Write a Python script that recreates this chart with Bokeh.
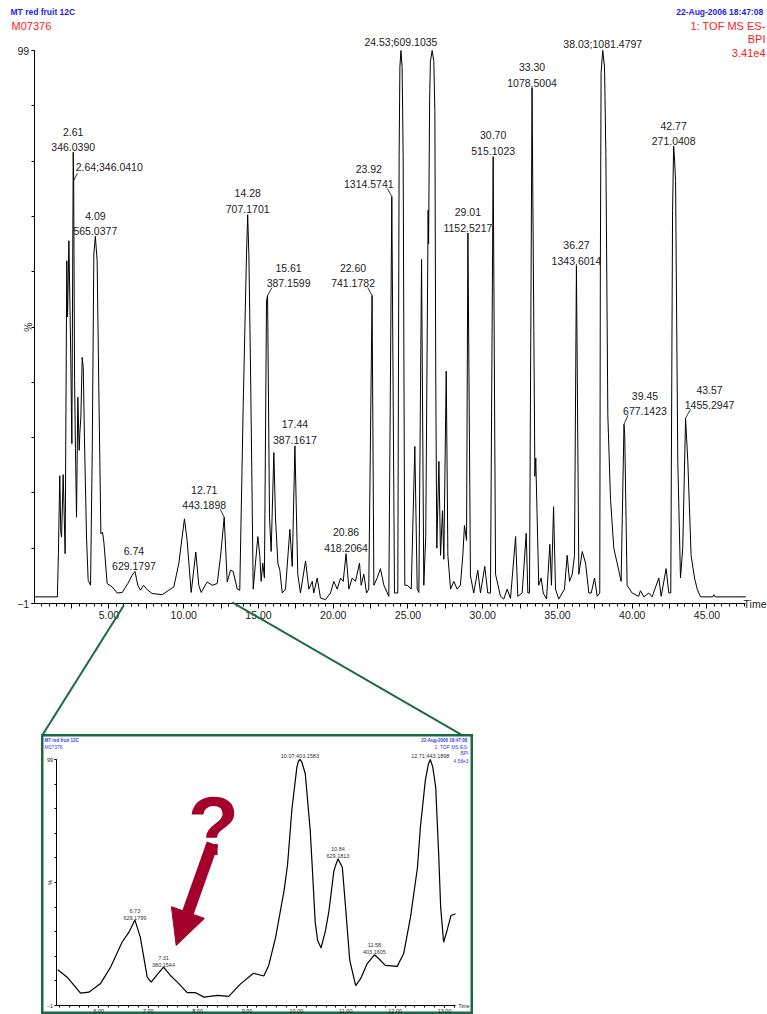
import math
from bokeh.plotting import figure
from bokeh.models import (Range1d, FixedTicker, Label, LabelSet, ColumnDataSource,
                          Arrow, NormalHead)
from bokeh.layouts import column
from bokeh.core.properties import value
from bokeh.embed import file_html
from bokeh.resources import INLINE

# ---------------- data: main chromatogram (time, min / relative intensity, %) -------------
MAIN_TIME = [0.0, 1.55, 1.62, 1.71, 1.78, 1.83, 1.94, 2.07, 2.18, 2.23, 2.32, 2.43, 2.52,
             2.61, 2.64, 2.70, 2.76, 2.83, 2.92, 3.01, 3.05, 3.12, 3.21, 3.28, 3.36, 3.50,
             3.61, 3.77, 3.88, 3.99, 4.09, 4.21, 4.32, 4.46, 4.57, 4.66, 4.88, 5.22, 5.55,
             5.89, 6.26, 6.55, 6.74, 6.93, 7.11, 7.31, 7.56, 7.89, 8.56, 9.00, 9.34, 9.67,
             10.05, 10.23, 10.50, 10.81, 11.01, 11.17, 11.57, 11.90, 12.24, 12.46, 12.71,
             12.91, 13.13, 13.31, 13.58, 13.75, 13.98, 14.20, 14.28, 14.36, 14.47, 14.65,
             14.80, 14.96, 15.09, 15.18, 15.29, 15.40, 15.54, 15.61, 15.74, 15.85, 16.03,
             16.14, 16.30, 16.43, 16.59, 16.81, 17.10, 17.26, 17.44, 17.63, 17.81, 18.15,
             18.37, 18.60, 18.70, 18.93, 19.15, 19.49, 19.82, 20.04, 20.27, 20.49, 20.67,
             20.86, 21.05, 21.27, 21.49, 21.76, 21.87, 22.05, 22.23, 22.38, 22.60, 22.72,
             22.94, 23.16, 23.39, 23.72, 23.92, 24.10, 24.32, 24.36, 24.41, 24.46, 24.53,
             24.61, 24.68, 24.74, 24.79, 24.95, 25.22, 25.46, 25.62, 25.73, 25.91, 26.06,
             26.19, 26.35, 26.38, 26.45, 26.50, 26.62, 26.73, 26.80, 26.86, 26.93, 27.07,
             27.18, 27.31, 27.40, 27.56, 27.67, 27.85, 28.07, 28.29, 28.51, 28.67, 28.78,
             28.92, 29.01, 29.18, 29.40, 29.67, 29.85, 30.14, 30.34, 30.52, 30.70, 30.86,
             31.19, 31.41, 31.64, 31.86, 32.20, 32.35, 32.64, 32.91, 33.02, 33.13, 33.30,
             33.42, 33.49, 33.55, 33.58, 33.75, 33.91, 34.05, 34.27, 34.49, 34.60, 34.74,
             34.87, 35.09, 35.32, 35.47, 35.65, 35.81, 35.99, 36.14, 36.27, 36.43, 36.66,
             36.88, 37.10, 37.26, 37.48, 37.66, 37.83, 37.87, 37.92, 38.03, 38.15, 38.24,
             38.37, 38.55, 38.77, 39.10, 39.26, 39.45, 39.50, 39.66, 39.99, 40.43, 40.55,
             40.78, 41.11, 41.33, 41.78, 41.94, 42.27, 42.45, 42.58, 42.70, 42.77, 42.82,
             42.90, 43.05, 43.23, 43.38, 43.57, 43.72, 43.94, 44.17, 44.35, 44.57, 45.40,
             45.46, 45.55, 47.60]
MAIN_INT = [0.2, 0.2, 8.0, 22.1, 12.0, 11.0, 22.3, 8.0, 61.0, 50.8, 64.6, 46.6, 27.9,
            80.6, 75.5, 39.3, 27.0, 14.6, 36.3, 26.7, 29.7, 32.7, 43.5, 41.7, 29.1, 11.0,
            3.2, 2.3, 26.1, 62.2, 65.4, 61.0, 38.1, 11.6, 11.9, 10.1, 2.6, 2.0, 0.9,
            1.0, 2.6, 4.1, 4.8, 2.3, 1.4, 2.3, 1.5, 0.8, 0.6, 1.4, 2.0, 6.2,
            14.3, 10.4, 1.0, 8.3, 2.3, 1.0, 2.9, 2.3, 2.6, 7.4, 14.6,
            2.9, 5.0, 4.8, 1.6, 1.4, 34.8, 62.0, 69.3, 62.0, 41.6, 1.6,
            6.3, 11.1, 7.7, 3.0, 6.3, 3.6, 53.8, 54.7, 14.5, 8.4, 26.3,
            14.5, 6.3, 5.0, 0.9, 1.6, 12.4, 5.7, 27.5, 4.3, 0.9, 6.7,
            1.6, 3.0, 0.9, 3.6, 0.0, -0.3, 0.9, 3.0, 1.6, 3.6, 3.0,
            8.0, 1.6, 3.6, 3.0, 6.3, 2.3, 4.3, 0.9, 1.6, 54.7, 2.3,
            3.6, 5.3, 2.3, 0.3, 72.6, 0.9, 0.9, 35.0, 80.0, 96.0, 99.0,
            96.0, 80.0, 35.0, 2.3, 2.3, 1.6, 27.4, 1.6, 1.0, 61.2, 2.3,
            11.1, 70.1, 64.0, 90.0, 97.0, 99.0, 97.0, 88.0, 40.0, 9.0, 24.7,
            7.7, 15.8, 7.0, 41.0, 7.7, 1.6, 3.0, 1.6, 2.3, 7.7, 13.1,
            10.4, 66.0, 4.0, 0.9, 5.0, 0.9, 5.7, 0.9, 0.9, 79.8, 4.3,
            0.3, -0.2, 1.6, -0.1, 11.1, 0.3, 0.9, 11.7, 0.9, 0.9, 92.3,
            48.4, 22.0, 25.3, 21.7, 2.3, 3.6, 0.9, -0.2, 9.7, 2.3, 16.5,
            1.6, -0.2, 0.9, 1.6, 7.7, 3.0, 4.3, 7.7, 60.1, 4.3, 8.4,
            6.3, 0.9, 0.9, 3.6, 0.3, 0.9, 60.0, 95.0, 99.0, 96.0, 80.0,
            33.0, 17.8, 9.0, 5.0, 3.0, 31.4, 29.5, 2.3, 0.9, 0.3, 1.3,
            0.2, 0.9, 0.2, 3.6, 0.3, 5.3, 0.9, 0.9, 70.0, 81.7, 80.0,
            75.5, 24.7, 3.6, 9.0, 32.5, 24.7, 7.7, 3.6, 1.6, 0.2, 0.2,
            0.6, 0.2, 0.2]

# labelled peaks of the main trace
PEAK_TIME = [2.61, 2.64, 4.09, 6.74, 12.71, 14.28, 15.61, 17.44, 20.86, 22.60, 23.92,
             24.53, 29.01, 30.70, 33.30, 36.27, 38.03, 39.45, 42.77, 43.57]
PEAK_INT = [80.6, 75.5, 65.4, 4.8, 14.6, 69.3, 54.7, 27.5, 8.0, 54.7, 72.6,
            99.0, 66.0, 79.8, 92.3, 60.1, 99.0, 31.4, 81.7, 32.5]
PEAK_MZ = ["346.0390", "346.0410", "565.0377", "629.1797", "443.1898", "707.1701",
           "387.1599", "387.1617", "418.2064", "741.1782", "1314.5741", "609.1035",
           "1152.5217", "515.1023", "1078.5004", "1343.6014", "1081.4797", "677.1423",
           "271.0408", "1455.2947"]
PEAK_ONE_LINE = [False, True, False, False, False, False, False, False, False, False, False,
                 True, False, False, False, False, True, False, False, False]

# ---------------- data: inset (zoom 5.1 - 13.2 min) ----------------
INSET_TIME = [5.17, 5.36, 5.63, 5.80, 6.03, 6.24, 6.47, 6.61, 6.73, 6.84, 6.98, 7.06, 7.17,
              7.31, 7.45, 7.59, 7.79, 7.96, 8.13, 8.40, 8.63, 8.87, 9.13, 9.34, 9.44, 9.58,
              9.75, 9.82, 9.91, 10.01, 10.04, 10.07, 10.11, 10.18, 10.28, 10.33, 10.38,
              10.43, 10.50, 10.59, 10.66, 10.76, 10.84, 10.93, 10.99, 11.08, 11.20, 11.30,
              11.43, 11.58, 11.67, 11.80, 12.04, 12.17, 12.31, 12.45, 12.51, 12.61, 12.67,
              12.71, 12.76, 12.82, 12.88, 12.92, 12.98, 13.05, 13.13, 13.22]
INSET_INT = [13.5, 10.5, 4.0, 4.4, 7.8, 14.6, 24.7, 28.8, 33.8, 26.8, 10.5, 8.5, 11.2,
             14.6, 11.2, 8.5, 4.2, 4.2, 2.4, 3.1, 2.7, 7.8, 12.1, 11.0, 15.3, 26.8,
             45.7, 56.0, 79.0, 95.9, 98.3, 99.0, 98.0, 93.2, 70.0, 52.0, 33.0,
             25.4, 22.4, 29.5, 37.6, 53.9, 58.6, 55.2, 40.3, 17.3, 7.1, 9.9,
             15.9, 19.6, 18.0, 15.3, 14.9, 20.0, 34.9, 55.0, 71.5, 90.5, 97.0,
             99.0, 96.0, 87.7, 60.7, 39.0, 24.7, 29.5, 35.6, 36.3]
INSET_PEAK_TIME = [6.73, 7.31, 10.07, 10.84, 11.58, 12.71]
INSET_PEAK_INT = [33.8, 14.6, 99.0, 58.6, 19.6, 99.0]
INSET_PEAK_MZ = ["629.1799", "380.1544", "403.1583", "629.1813", "403.1605", "443.1898"]
INSET_ONE_LINE = [False, False, True, False, False, True]

MAIN_X_MAJOR = [2.5 * k for k in range(1, 19)]
MAIN_X_MINOR = [0.5 * k for k in range(1, 96)]
MAIN_X_LABELLED = [5.0, 10.0, 15.0, 20.0, 25.0, 30.0, 35.0, 40.0, 45.0]
MAIN_X_END = 47.56
INSET_X_MAJOR = [6.0, 7.0, 8.0, 9.0, 10.0, 11.0, 12.0, 13.0]
INSET_X_MINOR = [5.2 + 0.2 * k for k in range(41)]
INSET_X_START, INSET_X_END = 5.134, 13.22
Y_TICKS = [-1, 99]
Y_MINOR = [-1 + 10 * k for k in range(11)]
ZOOM_FROM = (6.0, 13.25)   # where the zoom connectors leave the main time axis

# ---------------- layout / style constants ----------------
FONT = "Liberation Sans"
BLUE = "#1c1cff"
IBLUE = "#3a3aff"
RED = "#ff2020"
GREEN = "#1b6b42"
DARKRED = "#a3002b"
TXT = "#222222"

# main panel: canvas 767 x 734, time 0 at px 33.7, 14.95 px/min; 99 % at px 50, 5.53 px/%
W_MAIN, H_MAIN = 767, 734
T0_PX, PX_X, Y99_PX, PX_Y = 33.7, 14.95, 50.0, 5.53


def mx(px):
    return (px - T0_PX) / PX_X


def my(py):
    return 99 - (py - Y99_PX) / PX_Y


p = figure(width=W_MAIN, height=H_MAIN, output_backend="svg", toolbar_location=None,
           x_range=Range1d(mx(0), mx(W_MAIN)), y_range=Range1d(my(H_MAIN), my(0)),
           min_border_left=0, min_border_right=0, min_border_top=0, min_border_bottom=0)
p.outline_line_color = None
p.grid.visible = False
p.background_fill_color = "white"
p.border_fill_color = "white"

xa = p.xaxis[0]
xa.fixed_location = -1
xa.bounds = (0, MAIN_X_END)
xa.ticker = FixedTicker(ticks=MAIN_X_MAJOR, minor_ticks=MAIN_X_MINOR)
xa.major_label_overrides = {t: (f"{t:.2f}" if t in MAIN_X_LABELLED else "") for t in MAIN_X_MAJOR}
xa.major_tick_in = 0
xa.major_tick_out = 5
xa.minor_tick_in = 0
xa.minor_tick_out = 3
xa.major_label_standoff = 2
ya = p.yaxis[0]
ya.fixed_location = 0
ya.bounds = (-1, 99)
ya.ticker = FixedTicker(ticks=Y_TICKS, minor_ticks=Y_MINOR)
ya.major_tick_in = 0
ya.major_tick_out = 3
ya.minor_tick_in = 0
ya.minor_tick_out = 3
ya.major_label_standoff = 2
for ax in (xa, ya):
    ax.major_label_text_font = FONT
    ax.major_label_text_font_size = "10.5px"
    ax.major_label_text_color = TXT
    ax.axis_line_color = "black"
    ax.major_tick_line_color = "black"
    ax.minor_tick_line_color = "black"

p.line(MAIN_TIME, MAIN_INT, line_color="black", line_width=1)

# peak annotation style (pixel offsets of each label from its apex)
PEAK_DX = [0, 2, 0, -1, -20, 0, 21, 0, 0, -19, -23, 0, 0, 0, 0, 0, 0, 21, 0, 24]
PEAK_DY = [1, 7, 1, 1, 8, 2, 8, 2, 2, 8, 8, 3, 1, 2, 1, 1, 1, 9, 1, 9]
PEAK_ALIGN = ["center", "left"] + ["center"] * 18
LEADERS = {1: (3.7, 7), 4: (-4, 8), 6: (4.4, 8), 9: (-4.4, 8), 10: (-4.4, 8),
           17: (4, 9), 19: (5, 9)}
LINE_GAP = 15.5


def peak_labels(fig, times, ints, mzs, one_line, dx, dy, align, size, gap, color):
    for al in ("center", "left"):
        idx = [i for i in range(len(times)) if align[i] == al]
        if not idx:
            continue
        src = ColumnDataSource(dict(
            x=[times[i] for i in idx], y=[ints[i] for i in idx],
            top=["" if one_line[i] else f"{times[i]:.2f}" for i in idx],
            bottom=[f"{times[i]:.2f};{mzs[i]}" if one_line[i] else mzs[i] for i in idx],
            dx=[dx[i] for i in idx], dy=[dy[i] for i in idx],
            dy2=[dy[i] + gap for i in idx]))
        for txt, off in (("bottom", "dy"), ("top", "dy2")):
            fig.add_layout(LabelSet(x="x", y="y", text=txt, source=src, x_offset="dx",
                                    y_offset=off, text_align=al, text_baseline="bottom",
                                    text_font=value(FONT), text_font_size=size,
                                    text_color=color))


peak_labels(p, PEAK_TIME, PEAK_INT, PEAK_MZ, PEAK_ONE_LINE, PEAK_DX, PEAK_DY, PEAK_ALIGN,
            "10.5px", LINE_GAP, TXT)

lx0 = [PEAK_TIME[i] for i in LEADERS]
ly0 = [PEAK_INT[i] for i in LEADERS]
lx1 = [PEAK_TIME[i] + LEADERS[i][0] / PX_X for i in LEADERS]
ly1 = [PEAK_INT[i] + LEADERS[i][1] / PX_Y for i in LEADERS]
p.segment(lx0, ly0, lx1, ly1, line_color="black", line_width=0.8)

# headers
p.add_layout(Label(x=mx(10), y=my(11), text="MT red fruit 12C", text_font=FONT,
                   text_font_size="8.5px", text_font_style="bold", text_color=BLUE,
                   text_baseline="middle"))
p.add_layout(Label(x=mx(11), y=my(25), text="M07376", text_font=FONT,
                   text_font_size="11px", text_color=RED, text_baseline="middle"))
p.add_layout(Label(x=mx(765), y=my(11), text="22-Aug-2006  18:47:08", text_font=FONT,
                   text_font_size="8.5px", text_font_style="bold", text_color=BLUE,
                   text_align="right", text_baseline="middle"))
for txt, py in (("1: TOF MS ES-", 25), ("BPI", 38.5), ("3.41e4", 52)):
    p.add_layout(Label(x=mx(765), y=my(py), text=txt, text_font=FONT, text_font_size="11px",
                       text_color=RED, text_align="right", text_baseline="middle"))
p.add_layout(Label(x=mx(27), y=49, text="%", angle=math.pi / 2, text_font=FONT,
                   text_font_size="10.5px", text_color=TXT, text_align="center",
                   text_baseline="middle"))
p.add_layout(Label(x=mx(766), y=-1, text="Time", text_font=FONT, text_align="right",
                   text_font_size="10.5px", text_color=TXT, text_baseline="middle"))

# connectors from the main axis to the inset box
for t0, y0, px_end in zip(ZOOM_FROM, (-1.3, -0.8), (41, 464)):
    p.add_layout(Arrow(end=None, x_start=t0, y_start=y0, x_end=mx(px_end),
                       y_end=my(H_MAIN + 2), line_color=GREEN, line_width=2))

# ---------------- inset: canvas 432 x 280 at page (41, 734) ----------------
W_IN, H_IN = 432, 280
IN_LEFT, IN_TOP = 41, 734
I_T6_PX, IPX_X, I_Y99_PX, IPX_Y = 98.3, 49.4, 759.0, 2.46


def ix(px):
    return 6 + (px - I_T6_PX) / IPX_X


def iy(py):
    return 99 - (py - I_Y99_PX) / IPX_Y


q = figure(width=W_IN, height=H_IN, output_backend="svg", toolbar_location=None,
           x_range=Range1d(ix(IN_LEFT), ix(IN_LEFT + W_IN)),
           y_range=Range1d(iy(IN_TOP + H_IN), iy(IN_TOP)),
           min_border_left=0, min_border_right=0, min_border_top=0, min_border_bottom=0)
q.margin = (0, 0, 0, IN_LEFT)
q.outline_line_color = GREEN
q.outline_line_width = 4
q.grid.visible = False
qx = q.xaxis[0]
qx.fixed_location = -1
qx.bounds = (INSET_X_START, INSET_X_END)
qx.ticker = FixedTicker(ticks=INSET_X_MAJOR, minor_ticks=INSET_X_MINOR)
qx.major_label_overrides = {t: f"{t:.2f}" for t in INSET_X_MAJOR}
qy = q.yaxis[0]
qy.fixed_location = INSET_X_START
qy.bounds = (-1, 99)
qy.ticker = FixedTicker(ticks=Y_TICKS, minor_ticks=Y_MINOR)
for ax in (qx, qy):
    ax.major_label_text_font = FONT
    ax.major_label_text_font_size = "5.5px"
    ax.major_label_text_color = TXT
    ax.major_tick_in = 0
    ax.minor_tick_in = 0
    ax.major_tick_out = 2
    ax.minor_tick_out = 2
    ax.major_label_standoff = 1
    ax.axis_line_color = "black"

q.line(INSET_TIME, INSET_INT, line_color="black", line_width=1.2)

INSET_DX = [0] * 6
INSET_DY = [0, 0, 1, 1, 1, 1]
peak_labels(q, INSET_PEAK_TIME, INSET_PEAK_INT, INSET_PEAK_MZ, INSET_ONE_LINE, INSET_DX,
            INSET_DY, ["center"] * 6, "5.5px", 7, "#333333")

q.add_layout(Label(x=ix(44), y=iy(740), text="MT red fruit 12C", text_font=FONT,
                   text_font_size="4.5px", text_font_style="bold", text_color=IBLUE,
                   text_baseline="middle"))
q.add_layout(Label(x=ix(44), y=iy(746.7), text="M07376", text_font=FONT,
                   text_font_size="5px", text_color=IBLUE, text_baseline="middle"))
q.add_layout(Label(x=ix(468), y=iy(740), text="22-Aug-2006  18:47:08", text_font=FONT,
                   text_font_size="4.5px", text_font_style="bold", text_color=IBLUE,
                   text_align="right", text_baseline="middle"))
for txt, py in (("1: TOF MS ES-", 746.7), ("BPI", 752.7), ("4.58e3", 760)):
    q.add_layout(Label(x=ix(468), y=iy(py), text=txt, text_font=FONT, text_font_size="5px",
                       text_color=IBLUE, text_align="right", text_baseline="middle"))
q.add_layout(Label(x=ix(49.5), y=49, text="%", angle=math.pi / 2, text_font=FONT,
                   text_font_size="5.5px", text_color=TXT, text_align="center",
                   text_baseline="middle"))
q.add_layout(Label(x=ix(469), y=-1, text="Time", text_font=FONT, text_align="right",
                   text_font_size="5px", text_color=TXT, text_baseline="middle"))

# question mark and arrow
q.add_layout(Label(x=ix(213), y=iy(825), text="?", text_font=FONT, text_font_size="84px",
                   text_font_style="bold", text_color=DARKRED, text_align="center",
                   text_baseline="alphabetic"))
q.add_layout(Arrow(end=NormalHead(size=35, fill_color=DARKRED, line_color=DARKRED,
                                  line_width=1),
                   x_start=ix(212), y_start=iy(843), x_end=ix(175.7), y_end=iy(945),
                   line_color=DARKRED, line_width=12))

layout = column(p, q, spacing=0)
open("out.html", "w").write(file_html(layout, INLINE))
